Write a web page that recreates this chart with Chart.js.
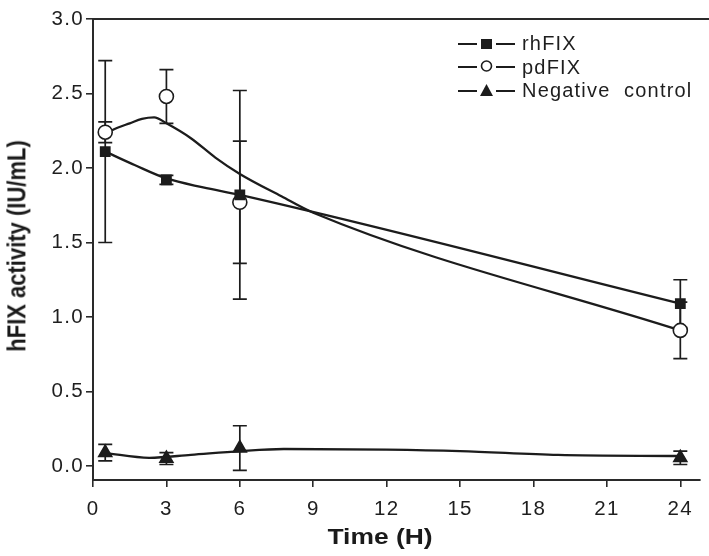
<!DOCTYPE html>
<html>
<head>
<meta charset="utf-8">
<script src="https://cdn.jsdelivr.net/npm/chart.js@4/dist/chart.umd.min.js"></script>
<style>
  html, body { margin: 0; padding: 0; background: #fff; }
  #wrap { position: relative; width: 709px; height: 556px; overflow: hidden; }
  #legend { position: absolute; left: 458px; top: 32px; font-family: "Liberation Sans", Arial, sans-serif; font-size: 20px; letter-spacing: 1.2px; color: #1e1e1e; }
  #legend .row { height: 23.5px; display: flex; align-items: center; white-space: pre; }
  #legend canvas { margin-right: 6px; }
  .axtitle { position: absolute; font-family: "Liberation Sans", Arial, sans-serif; font-weight: bold; font-size: 22px; color: #1a1a1a; white-space: nowrap; line-height: 1; }
  #xtitle { left: 380px; top: 537px; transform: translate(-50%, -50%) scaleX(1.2); }
  #ytitle { left: 17px; top: 246px; transform: translate(-50%, -50%) scaleX(1.2) rotate(-90deg); }
</style>
</head>
<body>
<div id="wrap">
  <canvas id="c" width="709" height="556"></canvas>
  <div id="legend"></div>
  <div id="xtitle" class="axtitle">Time (H)</div>
  <div id="ytitle" class="axtitle">hFIX activity (IU/mL)</div>
</div>
<script>
// ---- data ----
const timePoints = [0.5, 3, 6, 24];
const rhFIX      = [2.11, 1.92, 1.82, 1.09];
const rhFIXErr   = [0.61, 0.03, 0.70, 0.16];
const pdFIX      = [2.24, 2.48, 1.77, 0.91];
const pdFIXErr   = [0.07, 0.18, 0.41, 0.19];
const negCtrl    = [0.09, 0.05, 0.12, 0.055];
const negCtrlErr = [0.055, 0.04, 0.15, 0.045];

// fitted curves as drawn in the picture
const rhCurveX  = [0.5, 1.7, 3, 4.5, 6, 24];
const rhCurveY  = [2.11, 2.02, 1.93, 1.87, 1.82, 1.09];
const pdCurveX  = [0.5, 1, 1.5, 2, 2.5, 3, 4, 5, 6, 7.7, 9, 24];
const pdCurveY  = [2.23, 2.27, 2.30, 2.33, 2.34, 2.30, 2.20, 2.07, 1.96, 1.81, 1.70, 0.91];
const negCurveX = [0.5, 2.3, 4, 6, 7.8, 12, 15, 19, 24];
const negCurveY = [0.087, 0.055, 0.075, 0.10, 0.114, 0.11, 0.10, 0.074, 0.067];

const xTicks = [0, 3, 6, 9, 12, 15, 18, 21, 24];
const yTicks = [0, 0.5, 1.0, 1.5, 2.0, 2.5, 3.0];
const seriesNames = ['rhFIX', 'pdFIX', 'Negative  control'];

const INK = '#1c1c1c';
const FONT = '"Liberation Sans", Arial, sans-serif';

const pts = (xs, ys) => xs.map((x, i) => ({ x: x, y: ys[i] }));

const spacing = {
  id: 'spacing',
  beforeDraw(chart) { try { chart.ctx.letterSpacing = '1.3px'; } catch (e) {} }
};

const errorBars = {
  id: 'errorBars',
  beforeDatasetsDraw(chart) {
    const ctx = chart.ctx;
    const xs = chart.scales.x, ys = chart.scales.y;
    const sets = [[rhFIX, rhFIXErr], [pdFIX, pdFIXErr], [negCtrl, negCtrlErr]];
    ctx.save();
    ctx.strokeStyle = INK;
    ctx.lineWidth = 1.7;
    sets.forEach(([vals, errs]) => {
      vals.forEach((v, i) => {
        const px = xs.getPixelForValue(timePoints[i]);
        const top = ys.getPixelForValue(v + errs[i]);
        const bot = ys.getPixelForValue(v - errs[i]);
        ctx.beginPath();
        ctx.moveTo(px, top); ctx.lineTo(px, bot);
        ctx.moveTo(px - 7, top); ctx.lineTo(px + 7, top);
        ctx.moveTo(px - 7, bot); ctx.lineTo(px + 7, bot);
        ctx.stroke();
      });
    });
    ctx.restore();
  }
};

const frameTop = {
  id: 'frameTop',
  afterDraw(chart) {
    const ctx = chart.ctx, a = chart.chartArea;
    ctx.save();
    ctx.strokeStyle = '#2a2a2a';
    ctx.lineWidth = 2;
    ctx.beginPath();
    ctx.moveTo(a.left - 1, a.top);
    ctx.lineTo(chart.width, a.top);
    ctx.stroke();
    ctx.restore();
  }
};

const curveDs = (xs, ys) => ({
  type: 'line', data: pts(xs, ys), borderColor: INK, borderWidth: 2.3,
  pointRadius: 0, cubicInterpolationMode: 'monotone', fill: false, order: 5
});
const markerDs = (label, ys, style, fillColor, radius) => ({
  type: 'line', label: label, data: pts(timePoints, ys), showLine: false,
  pointStyle: style, pointRadius: radius, pointBackgroundColor: fillColor,
  pointBorderColor: INK, pointBorderWidth: 1.6, order: 1
});

new Chart(document.getElementById('c'), {
  type: 'line',
  data: {
    datasets: [
      curveDs(rhCurveX, rhCurveY),
      curveDs(pdCurveX, pdCurveY),
      curveDs(negCurveX, negCurveY),
      markerDs(seriesNames[0], rhFIX, 'rect', INK, 6.5),
      markerDs(seriesNames[1], pdFIX, 'circle', '#fff', 7),
      markerDs(seriesNames[2], negCtrl, 'triangle', INK, 7.5)
    ]
  },
  options: {
    responsive: false,
    animation: false,
    layout: { padding: { top: 19, right: 0, left: 0, bottom: 0 } },
    plugins: { legend: { display: false }, tooltip: { enabled: false } },
    scales: {
      x: {
        type: 'linear', min: 0, max: 24.8,
        afterBuildTicks: s => { s.ticks = xTicks.map(v => ({ value: v })); },
        afterFit: s => { s.height = 76; },
        border: { display: true, color: '#2a2a2a', width: 2 },
        grid: { display: true, drawOnChartArea: false, drawTicks: true, tickLength: 7, color: '#2a2a2a', lineWidth: 1.6 },
        ticks: { color: '#1e1e1e', font: { family: FONT, size: 20.5 }, padding: 10, maxRotation: 0,
                 callback: v => String(v) }
      },
      y: {
        type: 'linear', min: -0.094, max: 3.0,
        afterBuildTicks: s => { s.ticks = yTicks.map(v => ({ value: v })); },
        afterFit: s => { s.width = 93; },
        border: { display: true, color: '#2a2a2a', width: 2 },
        grid: { display: true, drawOnChartArea: false, drawTicks: true, tickLength: 7, color: '#2a2a2a', lineWidth: 1.6 },
        ticks: { color: '#1e1e1e', font: { family: FONT, size: 20.5 }, padding: 2,
                 callback: v => Number(v).toFixed(1) }
      }
    }
  },
  plugins: [spacing, errorBars, frameTop]
});

// legend (HTML text, small canvas glyphs for the line+marker symbol)
const legendEl = document.getElementById('legend');
const legendStyles = ['rect', 'circle', 'triangle'];
seriesNames.forEach((name, i) => {
  const row = document.createElement('div');
  row.className = 'row';
  const g = document.createElement('canvas');
  g.width = 58; g.height = 20;
  const c = g.getContext('2d');
  c.strokeStyle = INK; c.fillStyle = INK; c.lineWidth = 2.2;
  c.beginPath(); c.moveTo(0, 10); c.lineTo(19, 10); c.moveTo(38, 10); c.lineTo(57, 10); c.stroke();
  c.lineWidth = 1.6;
  if (legendStyles[i] === 'rect') { c.fillRect(23, 5, 11, 10); }
  else if (legendStyles[i] === 'circle') { c.beginPath(); c.arc(28.5, 9, 5, 0, Math.PI * 2); c.fillStyle = '#fff'; c.fill(); c.stroke(); }
  else { c.beginPath(); c.moveTo(28.5, 3); c.lineTo(35, 15); c.lineTo(22, 15); c.closePath(); c.fill(); }
  row.appendChild(g);
  const t = document.createElement('span');
  t.textContent = name;
  row.appendChild(t);
  legendEl.appendChild(row);
});
</script>
</body>
</html>
